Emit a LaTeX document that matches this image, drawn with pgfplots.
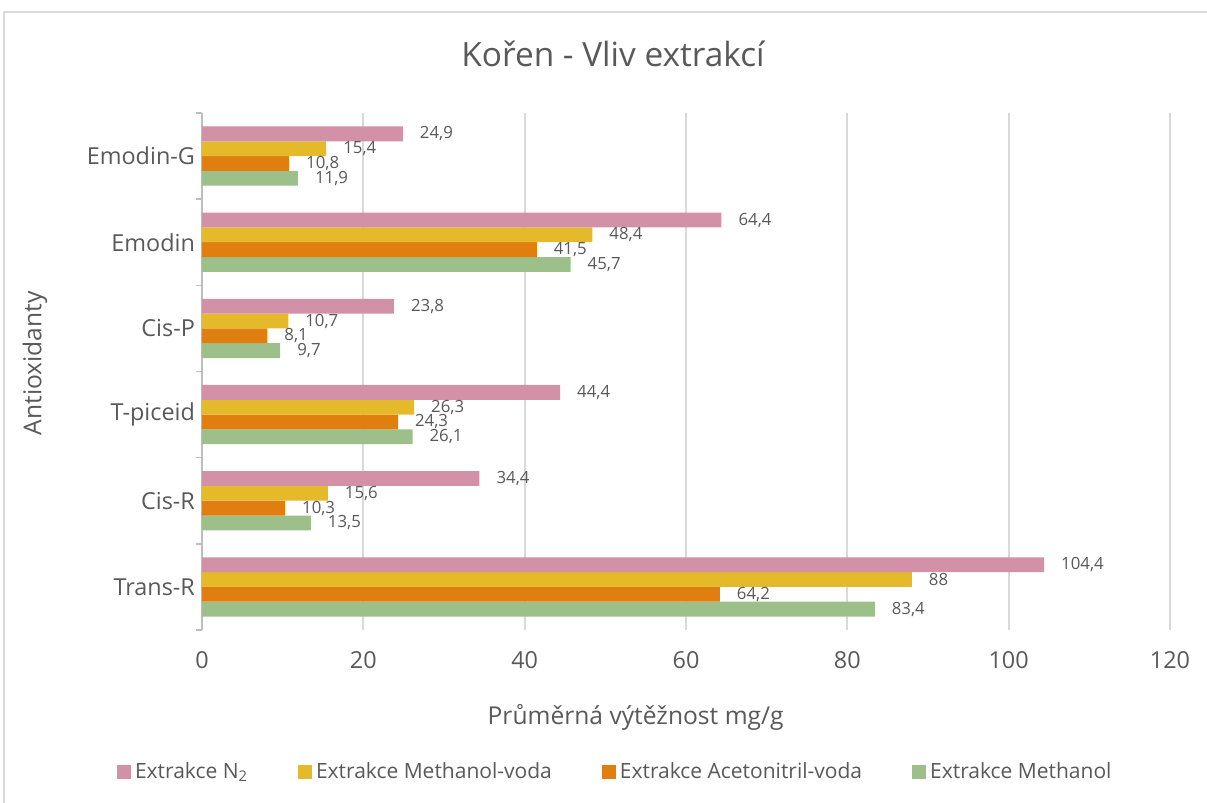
\documentclass[border=0pt]{standalone}
\usepackage{pgfplots}
\pgfplotsset{compat=1.18}
\usepackage{fontspec}
\setmainfont{Open Sans}
\definecolor{txt}{HTML}{595959}
\definecolor{cpink}{HTML}{D291A6}
\definecolor{cyellow}{HTML}{E5BA2A}
\definecolor{corange}{HTML}{E07F10}
\definecolor{cgreen}{HTML}{9DBF8A}
\definecolor{cgrid}{HTML}{D9D9D9}
\begin{document}
\begin{tikzpicture}
\path[use as bounding box] (0pt,0pt) rectangle (603.5pt,401.5pt);
\draw[cgrid,line width=0.8pt] (2pt,-5pt) -- (2pt,395.5pt) -- (610pt,395.5pt);
\begin{axis}[
  at={(101pt,86.5pt)}, anchor=south west,
  scale only axis, width=484pt, height=258.5pt,
  xbar, bar width=0.172,
  xmin=0, xmax=120, ymin=-0.5, ymax=5.5,
  xtick={0,20,...,120},
  ytick={0,1,2,3,4,5},
  yticklabels={Trans-R,Cis-R,T-piceid,Cis-P,Emodin,Emodin-G},
  minor ytick={-0.5,0.5,...,5.5},
  major tick length=0pt, minor tick length=3pt,
  tick align=outside,
  minor y tick style={cgrid!70!gray, line width=0.8pt},
  xmajorgrids=true,
  major x grid style={cgrid, line width=0.9pt},
  axis y line*=left, axis x line*=bottom,
  x axis line style={draw=none},
  y axis line style={cgrid!70!gray, line width=0.8pt},
  /pgf/number format/assume math mode=true,
  /pgf/number format/use comma,
  ticklabel style={font=\fontsize{11.7pt}{14pt}\selectfont, text=txt},
  xticklabel style={yshift=-7pt},
  point meta=x,
  nodes near coords,
  every node near coord/.append style={font=\fontsize{8.4pt}{10pt}\selectfont, text=txt, anchor=west, xshift=5pt},
  title={Kořen - Vliv extrakcí},
  title style={at={(0.4246,1.091)}, anchor=center, yshift=0pt, font=\fontsize{16.7pt}{20pt}\selectfont, text=txt},
  xlabel={Průměrná výtěžnost mg/g},
  xlabel style={at={(0.448,-0.170)}, anchor=center, yshift=0pt, font=\fontsize{12.3pt}{15pt}\selectfont, text=txt},
  ylabel={Antioxidanty},
  ylabel style={at={(-0.1725,0.516)}, anchor=center, yshift=0pt, font=\fontsize{12.3pt}{15pt}\selectfont, text=txt},
  legend columns=4, reverse legend,
  legend style={at={(0.428,-0.275)}, anchor=center, draw=none, fill=none,
    font=\fontsize{10.5pt}{13pt}\selectfont, text=txt,
    /tikz/every even column/.append style={column sep=23pt}},
  legend image code/.code={\fill[#1,draw=none] (0pt,-3.5pt) rectangle (7pt,3.5pt);},
]
\addplot[fill=cgreen, draw=none, bar shift=-0.258] coordinates {(83.4,0) (13.5,1) (26.1,2) (9.7,3) (45.7,4) (11.9,5)};
\addplot[fill=corange, draw=none, bar shift=-0.086] coordinates {(64.2,0) (10.3,1) (24.3,2) (8.1,3) (41.5,4) (10.8,5)};
\addplot[fill=cyellow, draw=none, bar shift=0.086] coordinates {(88,0) (15.6,1) (26.3,2) (10.7,3) (48.4,4) (15.4,5)};
\addplot[fill=cpink, draw=none, bar shift=0.258] coordinates {(104.4,0) (34.4,1) (44.4,2) (23.8,3) (64.4,4) (24.9,5)};
\legend{Extrakce Methanol, Extrakce Acetonitril-voda, Extrakce Methanol-voda, Extrakce N\textsubscript{2}}
\end{axis}
\end{tikzpicture}
\end{document}
